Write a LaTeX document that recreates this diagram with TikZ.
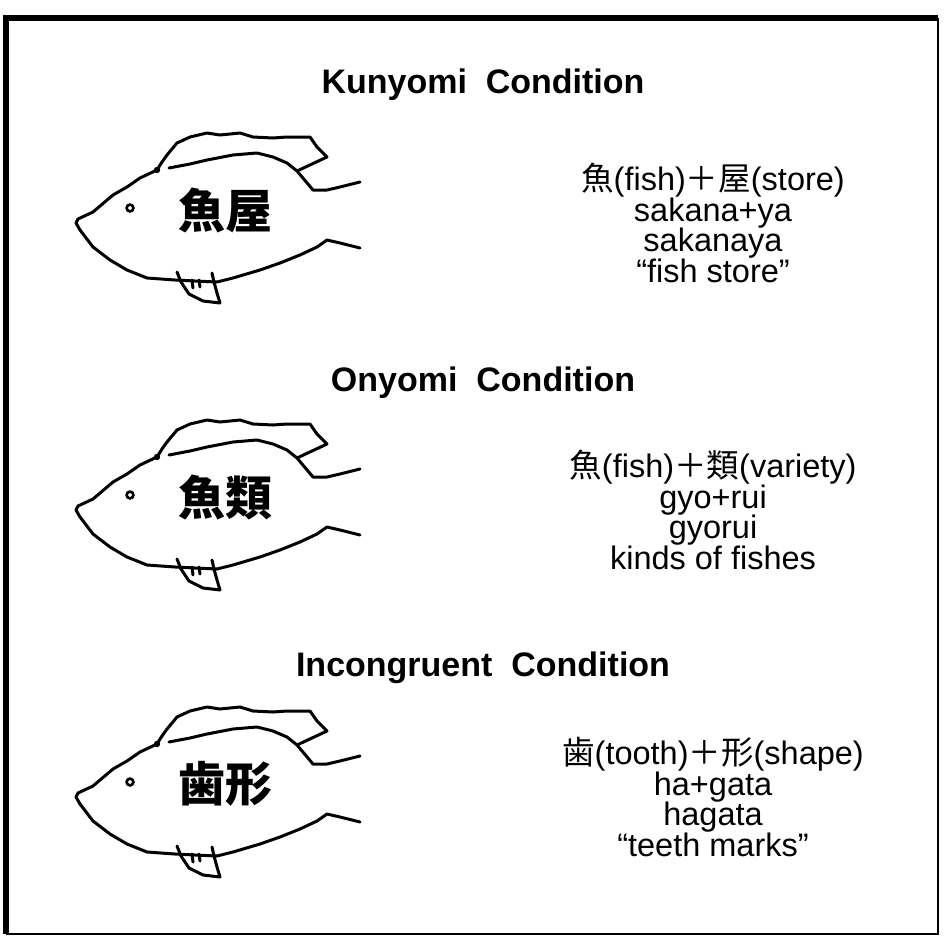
\documentclass[tikz,border=0pt]{standalone}
\usepackage{fontspec}
\setmainfont{Liberation Sans}
\newfontfamily\jp{Noto Sans CJK JP}
\begin{document}
\begin{tikzpicture}[x=1pt, y=-1pt,
  outline/.style={line width=3pt, line join=round, line cap=round},
  heading/.style={font=\fontsize{34}{34}\selectfont\bfseries},
  gloss/.style={align=center, font=\fontsize{32.5}{30.5}\selectfont},
  kanji/.style={font=\fontsize{47}{47}\selectfont\jp\bfseries},
  fish/.pic={
    \draw[outline] (-145,20) -- (-149,13) -- (-147,9) -- (-132,2) -- (-112,-15) -- (-98,-23) -- (-85,-32) -- (-68,-40)
      -- (-63,-48) -- (-58,-55) -- (-48,-67) -- (-35,-73) -- (-18,-77) -- (-5,-75) -- (15,-77) -- (28,-73)
      -- (48,-72) -- (62,-73) -- (85,-73) -- (92,-63) -- (102,-53) -- (72,-39);
    \draw[outline] (-56,-42) -- (-35,-46) -- (-18,-50) -- (8,-55) -- (32,-57) -- (48,-53) -- (62,-47) -- (72,-39)
      -- (88,-20) -- (102,-20) -- (115,-23) -- (135,-28);
    \draw[outline] (-145,20) -- (-132,37) -- (-115,50) -- (-98,60) -- (-78,68) -- (-50,70) -- (-30,71) -- (-8,72)
      -- (8,68) -- (35,60) -- (55,53) -- (75,45) -- (92,37) -- (102,30) -- (115,33) -- (135,38);
    \draw[outline] (-48,62) -- (-44,72) -- (-36,84) -- (-22,91) -- (-5,93) -- (-8,83) -- (-11,72) -- (-13,63);
    \draw[outline] (-33,70) -- (-32,78) (-26,70) -- (-25,77);
    \fill (-68,-40) circle [radius=3.2pt];
    \draw[line width=2.6pt] (-95,-2) circle [radius=3.4pt];
  }]
  \useasboundingbox (0,0) rectangle (944,937);
  \draw[line width=5.5pt] (6,934) -- (6,18) -- (938,18);
  \draw[line width=2.5pt] (938,18) -- (938,934) -- (6,934);

  \node (Kun) [heading] at (483,85) {Kunyomi~~Condition};
  \pic at (225,210) {fish};
  \node (KunW) [kanji] at (225,210) {魚屋};
  \node (KunG) [gloss] at (713,223) {{\jp 魚}(fish){\jp ＋屋}(store)\\sakana+ya\\sakanaya\\“fish store”};

  \node (On) [heading] at (483,383) {Onyomi~~Condition};
  \pic at (225,497) {fish};
  \node (OnW) [kanji] at (225,497) {魚類};
  \node (OnG) [gloss] at (713,510) {{\jp 魚}(fish){\jp ＋類}(variety)\\gyo+rui\\gyorui\\kinds of fishes};

  \node (Inc) [heading] at (483,668) {Incongruent~~Condition};
  \pic at (225,784) {fish};
  \node (IncW) [kanji] at (225,784) {歯形};
  \node (IncG) [gloss] at (713,797) {{\jp 歯}(tooth){\jp ＋形}(shape)\\ha+gata\\hagata\\“teeth marks”};
\end{tikzpicture}
\end{document}
